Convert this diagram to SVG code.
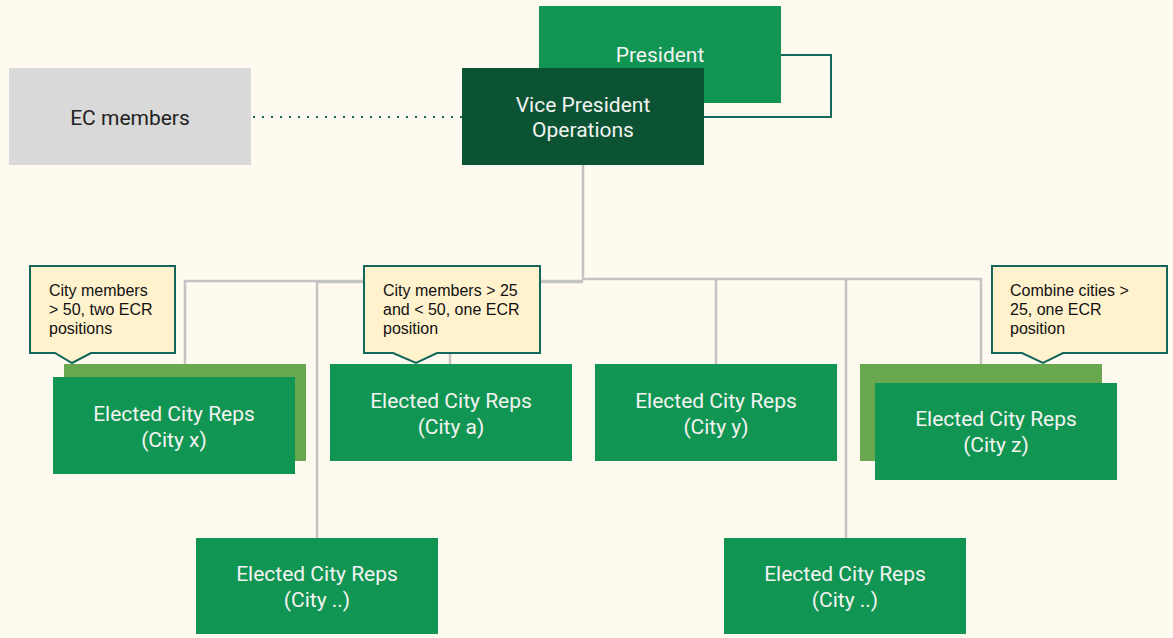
<svg xmlns="http://www.w3.org/2000/svg" width="1173" height="638" viewBox="0 0 1173 638">
<style>
.bg{fill:#fffaef}
.g{fill:#119552}
.sh{fill:#6aa84f}
.dk{fill:#0b5332}
.ec{fill:#d9d9d9}
.t{font-family:Roboto,"Liberation Sans",sans-serif;font-size:21px;fill:#f3f3f3;text-anchor:middle}
.td{font-family:Roboto,"Liberation Sans",sans-serif;font-size:21px;fill:#222;text-anchor:middle}
.co{fill:#fff2cc;stroke:#13665a;stroke-width:2}
.ct{font-family:"Liberation Sans",Arial,sans-serif;font-size:16px;fill:#111}
.ln{fill:none;stroke:#c3c3c3;stroke-width:2.5}
</style>
<rect class="bg" x="0" y="0" width="1173" height="638"/>
<g id="connectors">
<path class="ln" d="M583,165 V280"/>
<path class="ln" d="M185,364 V281 H583"/>
<path class="ln" d="M317,538 V282 H583"/>
<path class="ln" d="M450,364 V281"/>
<path class="ln" d="M583,279 H981 V364"/>
<path class="ln" d="M716,364 V280"/>
<path class="ln" d="M846,538 V278"/>
<path d="M781,55 H831 V117 H704" fill="none" stroke="#136a5a" stroke-width="2"/>
<path d="M253,117 H462" fill="none" stroke="#136a5a" stroke-width="2" stroke-dasharray="2 7"/>
</g>
<g id="president">
<rect class="g" x="539" y="6" width="242" height="97"/>
<text class="t" x="660" y="62">President</text>
</g>
<g id="vp">
<rect class="dk" x="462" y="68" width="242" height="97"/>
<text class="t" x="583" y="112">Vice President</text>
<text class="t" x="583" y="137">Operations</text>
</g>
<g id="ec">
<rect class="ec" x="9" y="68" width="242" height="97"/>
<text class="td" x="130" y="125">EC members</text>
</g>
<g id="cityx">
<rect class="sh" x="64" y="364" width="242" height="97"/>
<rect class="g" x="53" y="377" width="242" height="97"/>
<text class="t" x="174" y="421">Elected City Reps</text>
<text class="t" x="174" y="447">(City x)</text>
</g>
<g id="citya">
<rect class="g" x="330" y="364" width="242" height="97"/>
<text class="t" x="451" y="408">Elected City Reps</text>
<text class="t" x="451" y="434">(City a)</text>
</g>
<g id="cityy">
<rect class="g" x="595" y="364" width="242" height="97"/>
<text class="t" x="716" y="408">Elected City Reps</text>
<text class="t" x="716" y="434">(City y)</text>
</g>
<g id="cityz">
<rect class="sh" x="860" y="364" width="242" height="97"/>
<rect class="g" x="875" y="383" width="242" height="97"/>
<text class="t" x="996" y="426">Elected City Reps</text>
<text class="t" x="996" y="452">(City z)</text>
</g>
<g id="cityleft">
<rect class="g" x="196" y="538" width="242" height="96"/>
<text class="t" x="317" y="581">Elected City Reps</text>
<text class="t" x="317" y="607">(City ..)</text>
</g>
<g id="cityright">
<rect class="g" x="724" y="538" width="242" height="96"/>
<text class="t" x="845" y="581">Elected City Reps</text>
<text class="t" x="845" y="607">(City ..)</text>
</g>
<g id="callout1">
<path class="co" d="M30,266 H175 V353 H91 L72,363 L55,353 H30 Z"/>
<text class="ct" x="49" y="296">City members</text>
<text class="ct" x="49" y="315">&gt; 50, two ECR</text>
<text class="ct" x="49" y="334">positions</text>
</g>
<g id="callout2">
<path class="co" d="M364,266 H540 V353 H437 L416,363 L393,353 H364 Z"/>
<text class="ct" x="383" y="296">City members &gt; 25</text>
<text class="ct" x="383" y="315">and &lt; 50, one ECR</text>
<text class="ct" x="383" y="334">position</text>
</g>
<g id="callout3">
<path class="co" d="M992,266 H1167 V353 H1063 L1043,363 L1022,353 H992 Z"/>
<text class="ct" x="1010" y="296">Combine cities &gt;</text>
<text class="ct" x="1010" y="315">25, one ECR</text>
<text class="ct" x="1010" y="334">position</text>
</g>
</svg>
